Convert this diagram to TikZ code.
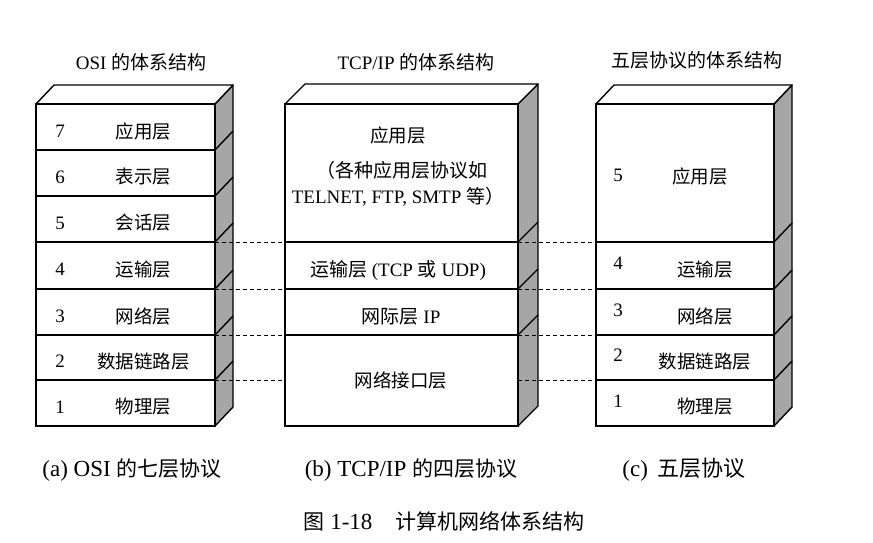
\documentclass[tikz,border=0pt]{standalone}
\usepackage{fontspec}
\setmainfont{Liberation Serif}
\newfontfamily\cjk{Noto Sans CJK SC}
\newcommand\zh[1]{{\cjk #1}}
\usetikzlibrary{calc}

\begin{document}
\begin{tikzpicture}[x=1pt,y=-1pt,
  layer/.style={draw, line width=1.4pt, rectangle, inner sep=0pt, outer sep=0pt,
                anchor=north west, minimum width=#1},
  sideface/.style={draw, line width=1.4pt, fill=black!35, line join=round},
  topface/.style={draw, line width=1.4pt, fill=white, line join=round},
  edge3d/.style={line width=1.4pt},
  lbl/.style={font=\cjk\fontsize{18.5}{22}\selectfont, inner sep=0pt},
  num/.style={font=\fontsize{19}{22}\selectfont, inner sep=0pt},
  txt/.style={font=\fontsize{19}{22}\selectfont, inner sep=0pt},
  title/.style={font=\fontsize{19}{22}\selectfont, inner sep=0pt},
  caption/.style={font=\fontsize{23}{26}\selectfont, inner sep=0pt},
  link/.style={line width=0.8pt, dash pattern=on 4pt off 3pt}]

\useasboundingbox (0,0) rectangle (873,543);

% ---------- OSI stack ----------
\def\L{36}\def\R{215}\def\T{104}\def\B{426}\def\dx{18}\def\dy{19}
\path[sideface] (\R,\T) -- (\R+\dx,\T-\dy) -- (\R+\dx,\B-\dy) -- (\R,\B) -- cycle;
\path[topface] (\L,\T) -- (\L+\dx,\T-\dy) -- (\R+\dx,\T-\dy) -- (\R,\T) -- cycle;
\foreach \n/\y/\h in {7/104/46, 6/150/46, 5/196/46, 4/242/47, 3/289/46, 2/335/45, 1/380/46}{
  \node[layer=179pt, minimum height=\h pt] (o\n) at (\L,\y) {};
}
\foreach \y in {150,196,242,289,335,380}{
  \draw[edge3d] (\R,\y) -- (\R+\dx,\y-\dy);
}
\foreach \n/\t in {7/应用层, 6/表示层, 5/会话层, 4/运输层, 3/网络层, 2/数据链路层, 1/物理层}{
  \node[num] at ($(o\n.center)+(-65.5,4)$) {\n};
  \node[lbl] at ($(o\n.center)+(18,4)$) {\t};
}

% ---------- TCP/IP stack ----------
\def\L{285}\def\R{518}\def\dx{20}\def\dy{20}
\path[sideface] (\R,\T) -- (\R+\dx,\T-\dy) -- (\R+\dx,\B-\dy) -- (\R,\B) -- cycle;
\path[topface] (\L,\T) -- (\L+\dx,\T-\dy) -- (\R+\dx,\T-\dy) -- (\R,\T) -- cycle;
\foreach \n/\y/\h in {4/104/138, 3/242/47, 2/289/46, 1/335/91}{
  \node[layer=233pt, minimum height=\h pt] (t\n) at (\L,\y) {};
}
\foreach \y in {242,289,335}{
  \draw[edge3d] (\R,\y) -- (\R+\dx,\y-\dy);
}
\node[lbl] at (398,135) {应用层};
\node[txt] at (402,170) {\zh{（各种应用层协议如}};
\node[txt] at (398,197) {TELNET, FTP, SMTP \zh{等）}};
\node[txt] at (398,271) {\zh{运输层} (TCP \zh{或} UDP)};
\node[txt] at (401,317) {\zh{网际层} IP};
\node[lbl] at (401,380) {网络接口层};

% ---------- five-layer stack ----------
\def\L{596}\def\R{774}\def\dx{18}\def\dy{19}
\path[sideface] (\R,\T) -- (\R+\dx,\T-\dy) -- (\R+\dx,\B-\dy) -- (\R,\B) -- cycle;
\path[topface] (\L,\T) -- (\L+\dx,\T-\dy) -- (\R+\dx,\T-\dy) -- (\R,\T) -- cycle;
\foreach \n/\y/\h in {5/104/138, 4/242/47, 3/289/46, 2/335/45, 1/380/46}{
  \node[layer=178pt, minimum height=\h pt] (f\n) at (\L,\y) {};
}
\foreach \y in {242,289,335,380}{
  \draw[edge3d] (\R,\y) -- (\R+\dx,\y-\dy);
}
\node[num] at (618,175) {5};
\node[lbl] at (700,176) {应用层};
\foreach \n/\t in {4/运输层, 3/网络层, 2/数据链路层, 1/物理层}{
  \node[num] at ($(f\n.center)+(-67,-2)$) {\n};
  \node[lbl] at ($(f\n.center)+(20,4)$) {\t};
}

% ---------- dashed correspondences ----------
\draw[link] (o4.north east) -- (t3.north west);
\draw[link] (o3.north east) -- (t2.north west);
\draw[link] (o2.north east) -- (t1.north west);
\draw[link] (o1.north east) -- (o1.north east -| t1.west);
\draw[link] (t3.north east) -- (f4.north west);
\draw[link] (t2.north east) -- (f3.north west);
\draw[link] (t1.north east) -- (f2.north west);
\draw[link] (f1.north west -| t1.east) -- (f1.north west);

% ---------- titles and captions ----------
\node[title] (h1) at (141,62) {OSI \zh{的体系结构}};
\node[title] (h2) at (416,62) {TCP/IP \zh{的体系结构}};
\node[title] (h3) at (697,60) {\zh{五层协议的体系结构}};
\node[caption] (c1) at (132,470) {(a) OSI \zh{\fontsize{21}{24}\selectfont 的七层协议}};
\node[caption] (c2) at (411,470) {(b) TCP/IP \zh{\fontsize{21}{24}\selectfont 的四层协议}};
\node[caption] (c3) at (684,470) {(c)\, \zh{\fontsize{22}{24}\selectfont 五层协议}};
\node[caption] (fig) at (444,521) {\zh{\fontsize{21}{24}\selectfont 图} 1-18\quad \zh{\fontsize{21}{24}\selectfont 计算机网络体系结构}};

\end{tikzpicture}
\end{document}
